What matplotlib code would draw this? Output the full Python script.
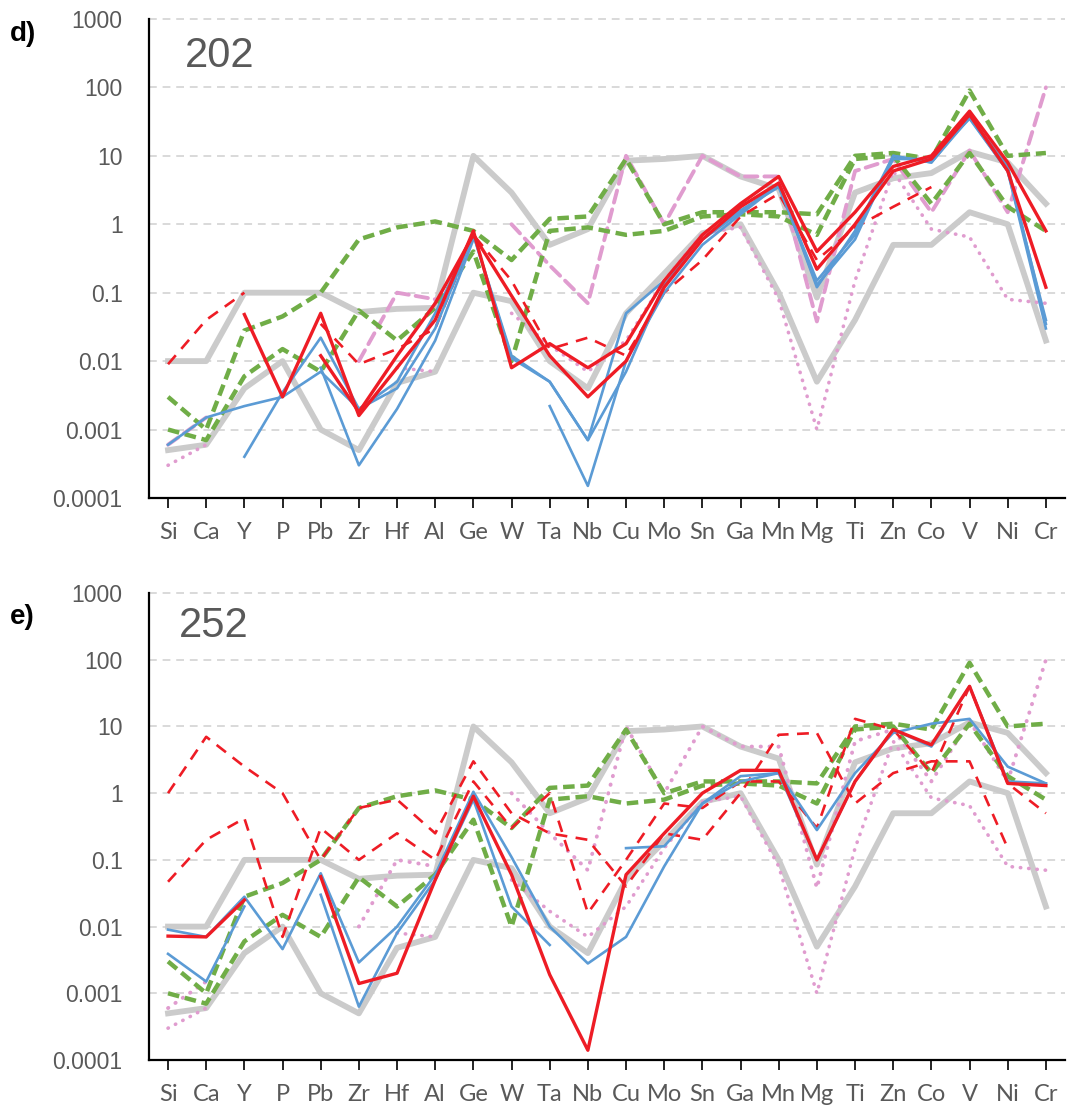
import numpy as np
import matplotlib
matplotlib.use("Agg")
import matplotlib.pyplot as plt

nan = np.nan

# element order on the x axis
ELEMENTS = ["Si", "Ca", "Y", "P", "Pb", "Zr", "Hf", "Al", "Ge", "W", "Ta", "Nb",
            "Cu", "Mo", "Sn", "Ga", "Mn", "Mg", "Ti", "Zn", "Co", "V", "Ni", "Cr"]

# reference envelopes / series shared by both panels
grey_upper = [0.01, 0.01, 0.1, 0.1, 0.1, 0.052, 0.058, 0.06, 10, 2.9, 0.5, 0.85,
              8.5, 9, 10, 5, 3.3, 0.085, 2.9, 4.7, 5.6, 11.5, 8, 2.0]
grey_lower = [0.0005, 0.0006, 0.004, 0.01, 0.001, 0.0005, 0.0048, 0.007, 0.1, 0.075, 0.01, 0.004,
              0.05, 0.19, 0.74, 1.0, 0.1, 0.005, 0.04, 0.5, 0.5, 1.5, 1.0, 0.02]
green_upper = [0.003, 0.001, 0.028, 0.045, 0.1, 0.6, 0.9, 1.1, 0.8, 0.3, 1.2, 1.3,
               9, 1.0, 1.5, 1.5, 1.5, 1.4, 10, 11, 9, 90, 10, 11]
green_lower = [0.001, 0.0007, 0.006, 0.015, 0.007, 0.055, 0.02, 0.06, 0.4, 0.01, 0.8, 0.9,
               0.7, 0.8, 1.3, 1.4, 1.3, 0.7, 9, 10, 2, 11, 1.8, 0.8]
pink_a = [0.0006, 0.0015, nan, nan, nan, 0.01, 0.1, 0.08, nan, 1.0, 0.25, 0.07,
          10, 1.0, 10, 5, 5, 0.038, 6, 9, 1.5, 12, 1.5, 100]
pink_b = [0.0003, 0.0006, nan, nan, nan, nan, 0.008, 0.007, nan, 0.05, 0.017, 0.007,
          0.02, 0.15, 0.74, 0.9, 0.08, 0.001, 0.15, 6, 0.85, 0.65, 0.08, 0.07]

# panel d) 202
red_202_a = [nan, nan, 0.048, 0.003, 0.05, 0.0016, 0.008, 0.04, 0.8, 0.008, 0.018, 0.008,
             0.018, 0.15, 0.7, 2.0, 5.0, 0.4, 1.5, 7, 10, 45, 8, 0.8]
red_202_b = [nan, nan, nan, nan, 0.012, 0.0018, 0.012, 0.07, 0.7, 0.09, 0.012, 0.003,
             0.01, 0.12, 0.6, 1.8, 4.0, 0.22, 1.0, 6, 9, 40, 6, 0.12]
reddash_202 = [0.009, 0.04, 0.1, nan, 0.035, 0.009, 0.015, 0.03, 0.7, 0.15, 0.015, 0.022,
               0.012, 0.1, 0.3, 1.3, 2.8, 0.3, 0.9, 1.8, 3.5, nan, nan, nan]
blue_202_a = [0.0006, 0.0015, 0.0022, 0.003, 0.007, 0.002, 0.004, 0.03, 0.7, 0.012, 0.005, 0.0007,
              0.007, 0.13, 0.6, 1.5, 4.0, 0.12, 0.8, 10, 8, 38, 7, 0.035]
blue_202_b = [nan, nan, 0.0004, 0.0035, 0.022, 0.002, 0.005, 0.05, 0.7, 0.011, 0.005, 0.0007,
              0.05, 0.15, 0.6, 1.6, 3.5, 0.15, 0.7, 9, 9, 35, 6, 0.03]
blue_202_c = [nan, nan, nan, nan, 0.008, 0.0003, 0.002, 0.02, 0.6, nan, 0.0022, 0.00015,
              0.01, 0.1, 0.5, 1.4, 3.8, 0.13, 0.6, 10, 8, 36, 6, 0.04]

# panel e) 252
red_252 = [0.0072, 0.007, 0.025, nan, 0.056, 0.0014, 0.002, 0.05, 0.9, 0.06, 0.0019, 0.00014,
           0.06, 0.25, 1.0, 2.2, 2.2, 0.1, 1.5, 9, 5.3, 40, 1.4, 1.3]
reddash_252_a = [1.0, 7.0, 2.5, 1.0, 0.1, 0.6, 0.8, 0.25, 3.0, 0.5, 0.25, 0.2,
                 0.04, 0.25, 0.2, 1.0, 7.5, 8.0, 0.7, 2.0, 3.0, 3.0, 0.15, nan]
reddash_252_b = [0.047, 0.2, 0.42, 0.007, 0.3, 0.1, 0.25, 0.1, 1.5, 0.3, 1.0, 0.016,
                 0.1, 0.7, 0.6, 1.5, 1.5, 0.3, 13, 9, 2.0, 40, 1.4, 0.5]
blue_252_a = [0.009, 0.007, 0.028, 0.0046, 0.063, 0.0029, 0.01, 0.06, 1.05, 0.11, 0.01, 0.0028,
              0.007, 0.08, 0.7, 1.5, 2.0, 0.1, 1.5, 9, 5, 40, 1.5, 1.4]
blue_252_b = [0.0039, 0.0015, 0.02, nan, 0.03, 0.00063, 0.008, 0.05, 0.8, 0.02, 0.0053, nan,
              0.15, 0.16, 0.7, 1.8, 2.0, 0.28, 2.0, 8, 11, 13, 2.5, 1.4]

YTICKS = [1e-4, 1e-3, 1e-2, 1e-1, 1, 10, 100, 1000]
YLABELS = ["0.0001", "0.001", "0.01", "0.1", "1", "10", "100", "1000"]

GREY = "#cbcbcb"
GREEN = "#70ad47"
PINK = "#e09ccf"
RED = "#ee1c25"
BLUE = "#5b9bd5"
TXT = "#595959"

x = np.arange(len(ELEMENTS))

fig = plt.figure(figsize=(10.67, 11.11), dpi=100)
ax_d = fig.add_axes([0.1396, 0.5518, 0.8585, 0.4311])
ax_e = fig.add_axes([0.1396, 0.0459, 0.8585, 0.4203])


def style_axis(ax):
    ax.set_yscale("log")
    ax.set_ylim(1e-4, 1e3)
    ax.set_xlim(-0.5, len(ELEMENTS) - 0.5)
    ax.set_yticks(YTICKS)
    ax.set_yticklabels(YLABELS)
    ax.yaxis.set_minor_locator(matplotlib.ticker.NullLocator())
    ax.set_xticks(x)
    ax.set_xticklabels(ELEMENTS)
    ax.tick_params(axis="y", length=0, pad=19, labelsize=16.5, labelcolor=TXT,
                   labelfontfamily="Liberation Sans")
    ax.tick_params(axis="x", length=7, width=1.2, direction="out", pad=10, color="black",
                   labelsize=17, labelcolor=TXT, labelfontfamily="Lato")
    for side in ("top", "right"):
        ax.spines[side].set_visible(False)
    for side in ("left", "bottom"):
        ax.spines[side].set_linewidth(1.6)
        ax.spines[side].set_color("black")
    for v in YTICKS[1:]:
        ax.axhline(v, color="#d9d9d9", lw=1.4, ls=(0, (4, 3)), zorder=0, clip_on=False)


def draw_reference(ax, pink_a_style):
    ax.plot(x, grey_upper, color=GREY, lw=4.2, zorder=1)
    ax.plot(x, grey_lower, color=GREY, lw=4.2, zorder=1)
    ax.plot(x, pink_a, color=PINK, lw=2.8, ls=pink_a_style, zorder=2,
            dash_capstyle="round")
    ax.plot(x, pink_b, color=PINK, lw=2.6, ls=(0, (0.1, 2.2)), zorder=2,
            dash_capstyle="round")
    ax.plot(x, green_upper, color=GREEN, lw=3.2, ls=(0, (2.6, 1.3)), zorder=3)
    ax.plot(x, green_lower, color=GREEN, lw=3.2, ls=(0, (2.6, 1.3)), zorder=3)


# panel d
style_axis(ax_d)
draw_reference(ax_d, (0, (3.2, 1.8)))
ax_d.plot(x, reddash_202, color=RED, lw=1.9, ls=(0, (4.5, 3.2)), zorder=4)
for s in (blue_202_a, blue_202_b, blue_202_c):
    ax_d.plot(x, s, color=BLUE, lw=1.9, zorder=5)
for s in (red_202_a, red_202_b):
    ax_d.plot(x, s, color=RED, lw=2.4, zorder=6)
ax_d.text(0.039, 0.965, "202", transform=ax_d.transAxes, family="Liberation Sans",
          fontsize=30, color=TXT, va="top", ha="left")

# panel e
style_axis(ax_e)
draw_reference(ax_e, (0, (0.1, 2.2)))
for s in (reddash_252_a, reddash_252_b):
    ax_e.plot(x, s, color=RED, lw=1.9, ls=(0, (4.5, 3.2)), zorder=4)
for s in (blue_252_a, blue_252_b):
    ax_e.plot(x, s, color=BLUE, lw=1.9, zorder=5)
ax_e.plot(x, red_252, color=RED, lw=2.4, zorder=6)
ax_e.text(0.033, 0.972, "252", transform=ax_e.transAxes, family="Liberation Sans",
          fontsize=30, color=TXT, va="top", ha="left")

fig.text(0.009, 0.969, "d)", family="Liberation Sans", fontsize=20, fontweight="bold",
         va="center", ha="left")
fig.text(0.009, 0.445, "e)", family="Liberation Sans", fontsize=20, fontweight="bold",
         va="center", ha="left")

fig.savefig("out.png", dpi=100)
